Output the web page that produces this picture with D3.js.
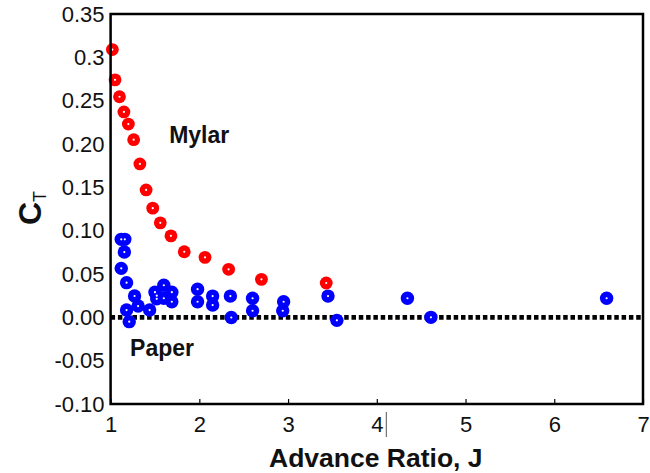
<!DOCTYPE html>
<html>
<head>
<meta charset="utf-8">
<script src="https://cdn.jsdelivr.net/npm/d3@7"></script>
<style>
  body { margin: 0; background: #fff; }
  text { font-family: "Liberation Sans", Arial, sans-serif; }
</style>
</head>
<body>
<div id="chart"></div>
<script>
// Mylar rotor (red)
const mylarJ  = [1.02, 1.05, 1.10, 1.15, 1.20, 1.26, 1.33, 1.40, 1.475, 1.56, 1.68, 1.83, 2.064, 2.33, 2.70, 3.43];
const mylarCT = [0.309, 0.274, 0.2545, 0.237, 0.223, 0.205, 0.177, 0.147, 0.126, 0.109, 0.094, 0.0757, 0.0692, 0.0554, 0.0438, 0.0396];

// Paper rotor (blue)
const paperJ  = [1.12, 1.16, 1.155, 1.12, 1.18, 1.27, 1.31, 1.18, 1.21, 1.44,
                 1.50, 1.52, 1.52, 1.60, 1.60, 1.69, 1.69,
                 1.98, 1.98, 2.15, 2.15, 2.35, 2.36, 2.60, 2.60, 2.95, 2.94,
                 3.45, 3.55, 4.345, 4.61, 6.59];
const paperCT = [0.090, 0.090, 0.0753, 0.0565, 0.040, 0.0246, 0.0130, 0.0084, -0.0050, 0.0084,
                 0.0290, 0.0213, 0.0250, 0.0370, 0.0220, 0.0290, 0.0180,
                 0.0325, 0.0180, 0.0245, 0.0142, 0.0245, -0.0002, 0.0220, 0.0076, 0.0180, 0.0076,
                 0.0245, -0.0035, 0.0220, 0.0000, 0.0220];

// Axis ticks
const xTicks = [1, 2, 3, 4, 5, 6, 7];
const yTicks = [0.35, 0.30, 0.25, 0.20, 0.15, 0.10, 0.05, 0.00, -0.05, -0.10];
const yTickLabels = ['0.35', '0.3', '0.25', '0.20', '0.15', '0.10', '0.05', '0.00', '-0.05', '-0.10'];

const width = 650;
const height = 473;
const margin = { top: 14, right: 7, bottom: 69, left: 110.6 };
const plotW = width - margin.left - margin.right;
const plotH = height - margin.top - margin.bottom;

const svg = d3.select('#chart')
    .append('svg')
    .attr('width', width)
    .attr('height', height);

const x = d3.scaleLinear().domain([1, 7]).range([margin.left, margin.left + plotW]);
const y = d3.scaleLinear().domain([-0.10, 0.35]).range([margin.top + plotH, margin.top]);

// x axis: inward ticks, labels below
const xAxis = svg.append('g')
    .attr('transform', `translate(0,${margin.top + plotH})`)
    .call(d3.axisBottom(x).tickValues(xTicks).tickFormat(d3.format('d'))
        .tickSizeInner(-5).tickSizeOuter(0).tickPadding(12));
xAxis.select('.domain').remove();
xAxis.selectAll('line').attr('stroke', '#000').attr('stroke-width', 1.2);
xAxis.selectAll('text').attr('font-size', '22px').attr('fill', '#111');

// y axis: labels only
const yAxis = svg.append('g')
    .attr('transform', `translate(${margin.left},0)`)
    .call(d3.axisLeft(y).tickValues(yTicks)
        .tickFormat((d, i) => yTickLabels[i])
        .tickSize(0).tickPadding(6));
yAxis.select('.domain').remove();
yAxis.selectAll('text').attr('font-size', '22px').attr('fill', '#111');

// stray mark next to the "4" label
svg.append('line')
    .attr('x1', x(4) + 9.5).attr('x2', x(4) + 9.5)
    .attr('y1', margin.top + plotH + 8).attr('y2', margin.top + plotH + 33)
    .attr('stroke', '#555').attr('stroke-width', 1);

// zero reference line (dotted)
svg.append('line')
    .attr('x1', x(1)).attr('x2', x(7))
    .attr('y1', y(0)).attr('y2', y(0))
    .attr('stroke', '#000')
    .attr('stroke-width', 4.8)
    .attr('stroke-dasharray', '4.5,2.8');

// markers
function drawSeries(J, CT, color, r) {
    const g = svg.append('g');
    const pts = J.map((j, i) => ({ j, c: CT[i] }));
    g.selectAll('circle.mk')
        .data(pts)
        .enter().append('circle')
        .attr('class', 'mk')
        .attr('cx', d => x(d.j))
        .attr('cy', d => y(d.c))
        .attr('r', r)
        .attr('fill', color);
    g.selectAll('circle.dot')
        .data(pts)
        .enter().append('circle')
        .attr('class', 'dot')
        .attr('cx', d => x(d.j))
        .attr('cy', d => y(d.c))
        .attr('r', 1.1)
        .attr('fill', '#fff');
}
drawSeries(paperJ, paperCT, '#0000ff', 6.7);
drawSeries(mylarJ, mylarCT, '#ff0000', 6.4);

// frame
svg.append('rect')
    .attr('x', margin.left)
    .attr('y', margin.top)
    .attr('width', plotW)
    .attr('height', plotH)
    .attr('fill', 'none')
    .attr('stroke', '#000')
    .attr('stroke-width', 2.5);

// annotations
svg.append('text')
    .attr('x', x(1.66)).attr('y', 143)
    .attr('font-size', '23px').attr('font-weight', 'bold').attr('fill', '#111')
    .text('Mylar');
svg.append('text')
    .attr('x', x(1.22)).attr('y', 356)
    .attr('font-size', '23px').attr('font-weight', 'bold').attr('fill', '#111')
    .text('Paper');

// axis titles
svg.append('text')
    .attr('x', margin.left + plotW / 2 - 1)
    .attr('y', 467)
    .attr('text-anchor', 'middle')
    .attr('font-size', '26.5px').attr('font-weight', 'bold').attr('fill', '#111')
    .text('Advance Ratio, J');

const yTitle = svg.append('text')
    .attr('transform', `translate(41,${margin.top + plotH / 2 - 1}) rotate(-90)`)
    .attr('text-anchor', 'middle')
    .attr('fill', '#111');
yTitle.append('tspan')
    .attr('font-size', '32px').attr('font-weight', 'bold')
    .text('C');
yTitle.append('tspan')
    .attr('font-size', '18px')
    .attr('dy', 5)
    .text('T');
</script>
</body>
</html>
